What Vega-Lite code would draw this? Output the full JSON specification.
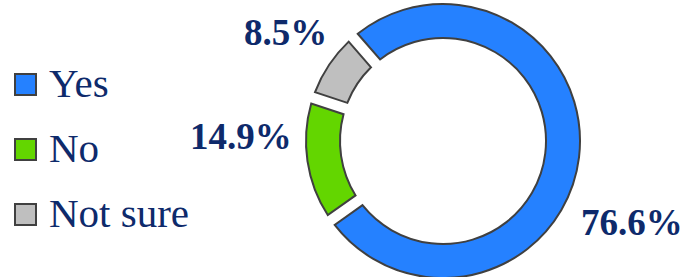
{
  "$schema": "https://vega.github.io/schema/vega-lite/v6.json",
  "width": 300,
  "height": 272,
  "autosize": {"type": "none"},
  "padding": {"left": 293, "top": 5, "right": 93, "bottom": 0},
  "background": "white",
  "config": {
    "view": {"stroke": null},
    "font": "Liberation Serif"
  },
  "data": {
    "values": [
      {"answer": "Yes", "value": 76.6, "label": "76.6%", "rank": 1},
      {"answer": "No", "value": 14.9, "label": "14.9%", "rank": 2},
      {"answer": "Not sure", "value": 8.5, "label": "8.5%", "rank": 3}
    ]
  },
  "encoding": {
    "theta": {"field": "value", "type": "quantitative", "stack": true,
      "scale": {"domain": [0, 100], "range": [-0.7156, 5.5676]}},
    "order": {"field": "rank", "type": "quantitative"}
  },
  "layer": [
    {
      "mark": {"type": "arc", "outerRadius": 137, "innerRadius": 103, "padAngle": 0.07,
        "stroke": "#404040", "strokeWidth": 2},
      "encoding": {
        "color": {"field": "answer", "type": "nominal",
          "scale": {"domain": ["Yes", "No", "Not sure"], "range": ["#2581FF", "#63D600", "#BFBFBF"]},
          "legend": {
            "title": null, "orient": "none", "legendX": -288, "legendY": 59,
            "symbolType": "square", "symbolSize": 441, "symbolStrokeColor": "#404040",
            "symbolStrokeWidth": 2, "symbolOpacity": 1,
            "labelFont": "Liberation Serif", "labelFontSize": 41, "labelColor": "#0E2A6B",
            "labelOffset": 3, "rowPadding": 23, "labelLimit": 300, "padding": 0
          }
        }
      }
    },
    {
      "mark": {"type": "text", "radius": 170, "font": "Liberation Serif", "fontSize": 37,
        "fontWeight": "bold", "color": "#0E2A6B", "align": "center", "baseline": "alphabetic",
        "dx": 20, "dy": 74},
      "encoding": {"text": {"condition": {"test": "datum.answer === 'Yes'", "field": "label"}, "value": ""}}
    },
    {
      "mark": {"type": "text", "radius": 170, "font": "Liberation Serif", "fontSize": 37,
        "fontWeight": "bold", "color": "#0E2A6B", "align": "center", "baseline": "alphabetic",
        "dx": -34, "dy": -17},
      "encoding": {"text": {"condition": {"test": "datum.answer === 'No'", "field": "label"}, "value": ""}}
    },
    {
      "mark": {"type": "text", "radius": 170, "font": "Liberation Serif", "fontSize": 37,
        "fontWeight": "bold", "color": "#0E2A6B", "align": "center", "baseline": "alphabetic",
        "dx": -16, "dy": -2},
      "encoding": {"text": {"condition": {"test": "datum.answer === 'Not sure'", "field": "label"}, "value": ""}}
    }
  ]
}
